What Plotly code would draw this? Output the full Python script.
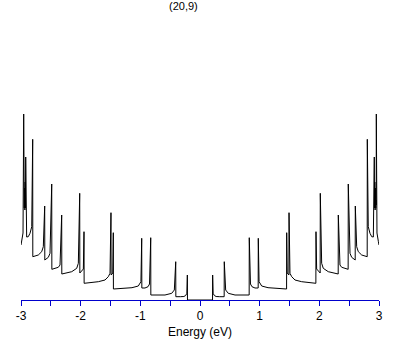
import plotly.graph_objects as go

# Density of states of a (20,9) nanotube.
# Energy in eV, DOS in arbitrary units.
energy_neg = [-3.000, -2.990, -2.966, -2.955, -2.953, -2.950, -2.945, -2.940, -2.935,
              -2.930, -2.925, -2.921, -2.918, -2.913, -2.910, -2.905, -2.878, -2.849,
              -2.820, -2.804, -2.802, -2.710, -2.653, -2.626, -2.603, -2.601, -2.542,
              -2.514, -2.485, -2.483, -2.375, -2.346, -2.318, -2.316, -2.150, -2.066,
              -2.039, -2.016, -2.014, -1.985, -1.955, -1.944, -1.942, -1.704, -1.592,
              -1.537, -1.508, -1.492, -1.490, -1.462, -1.453, -1.451, -1.140, -1.034,
              -0.990, -0.977, -0.975, -0.922, -0.871, -0.846, -0.826, -0.824, -0.587,
              -0.474, -0.430, -0.407, -0.405, -0.330, -0.270, -0.240, -0.220, -0.212,
              -0.210]
dos_neg = [55, 58.3, 67, 186, 95, 100, 92, 112, 90,
           118, 92, 143, 120, 88, 100, 63, 63.3, 66.7,
           73.3, 160.7, 43.3, 45, 48.3, 53.3, 94, 40, 42.7,
           46.7, 116, 30.7, 32.7, 35, 85, 26, 28.3, 31.7,
           36.7, 106.7, 27, 29, 31, 68.3, 16.7, 18.3, 20,
           23.3, 26.7, 87.3, 25, 27, 67.3, 11, 12.3, 14,
           18.3, 61.7, 12, 12, 13.3, 16, 62.3, 5, 5,
           6.7, 10, 38.3, 3.3, 3.3, 3.5, 4.5, 6.7, 25,
           0]

energy_pos = [0.000, 0.210, 0.212, 0.220, 0.240, 0.270, 0.330, 0.405, 0.407,
              0.430, 0.474, 0.587, 0.824, 0.826, 0.846, 0.871, 0.922, 0.975,
              0.977, 0.990, 1.034, 1.140, 1.451, 1.453, 1.462, 1.490, 1.492,
              1.508, 1.537, 1.592, 1.704, 1.942, 1.944, 1.955, 1.985, 2.014,
              2.016, 2.039, 2.066, 2.150, 2.316, 2.318, 2.346, 2.375, 2.483,
              2.485, 2.514, 2.542, 2.601, 2.603, 2.626, 2.653, 2.710, 2.802,
              2.804, 2.820, 2.849, 2.878, 2.905, 2.910, 2.913, 2.918, 2.921,
              2.925, 2.930, 2.935, 2.940, 2.945, 2.950, 2.953, 2.955, 2.966,
              2.990, 3.000]
dos_pos = [0, 0, 25, 6.7, 4.5, 3.5, 3.3, 3.3, 38.3,
           10, 6.7, 5, 5, 62.3, 16, 13.3, 12, 12,
           61.7, 18.3, 14, 12.3, 11, 67.3, 27, 25, 87.3,
           26.7, 23.3, 20, 18.3, 16.7, 68.3, 31, 29, 27,
           106.7, 36.7, 31.7, 28.3, 26, 85, 35, 32.7, 30.7,
           116, 46.7, 42.7, 40, 94, 53.3, 48.3, 45, 43.3,
           160.7, 73.3, 66.7, 63.3, 63, 100, 88, 120, 143,
           92, 118, 90, 112, 92, 100, 95, 186, 67,
           58.3, 55]

tick_vals = [-3, -2, -1, 0, 1, 2, 3]
tick_text = ["-3", "-2", "-1", "0", "1", "2", "3"]
title_text = "(20,9)"
x_title = "Energy (eV)"

energy = energy_neg + energy_pos
dos = dos_neg + dos_pos

axis_blue = "#0000CC"
font_family = "Liberation Sans, Arial, sans-serif"

fig = go.Figure()
fig.add_trace(go.Scatter(
    x=energy, y=dos, mode="lines",
    line=dict(color="black", width=1),
    hoverinfo="skip", showlegend=False,
))

fig.update_layout(
    width=409, height=345,
    margin=dict(l=21, r=30, t=100, b=45, autoexpand=False),
    paper_bgcolor="white", plot_bgcolor="white",
    font=dict(family=font_family, size=12, color="black"),
    showlegend=False,
    xaxis=dict(
        range=[-3, 3],
        tickmode="array", tickvals=tick_vals, ticktext=tick_text,
        ticks="outside", ticklen=5, tickwidth=1, tickcolor=axis_blue,
        showline=True, linecolor=axis_blue, linewidth=1,
        showgrid=False, zeroline=False, automargin=False,
        tickfont=dict(size=12, color="black"),
        minor=dict(dtick=0.5, tick0=0, ticks="outside", ticklen=5,
                   tickwidth=1, tickcolor=axis_blue, showgrid=False),
        title=dict(text=x_title, font=dict(size=12), standoff=5),
    ),
    yaxis=dict(range=[0, 200], visible=False, fixedrange=True),
    annotations=[dict(
        text=title_text, xref="paper", yref="paper",
        x=(183.5 - 21) / 358, y=1 + (100 - 6) / 200,
        xanchor="center", yanchor="middle", showarrow=False,
        font=dict(size=11, color="black"),
    )],
)

fig.write_html(
    "out.html",
    config={"displayModeBar": False},
    post_script="document.body.style.margin='0';document.body.style.padding='0';",
)
